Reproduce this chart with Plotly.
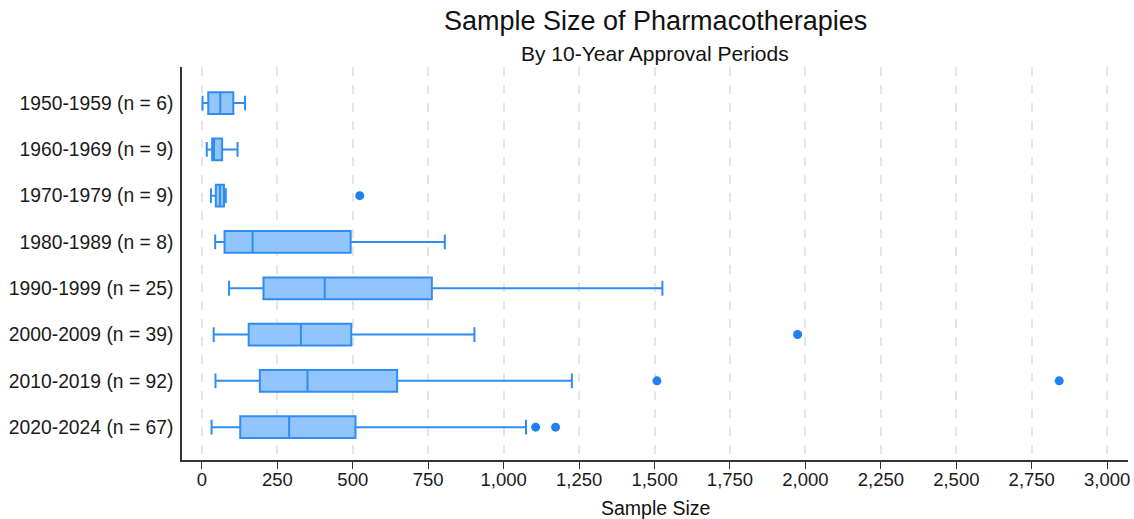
import plotly.graph_objects as go

periods = ["1950-1959 (n = 6)", "1960-1969 (n = 9)", "1970-1979 (n = 9)", "1980-1989 (n = 8)",
           "1990-1999 (n = 25)", "2000-2009 (n = 39)", "2010-2019 (n = 92)", "2020-2024 (n = 67)"]
lower_whisker = [2, 16, 30, 44, 90, 39, 45, 32]
q1 = [21, 34, 46, 75, 204, 155, 192, 127]
median = [61, 40, 60, 168, 407, 328, 350, 289]
q3 = [104, 67, 73, 493, 762, 495, 647, 509]
upper_whisker = [143, 118, 79, 805, 1526, 903, 1226, 1074]

outlier_period = ["1970-1979 (n = 9)", "2000-2009 (n = 39)", "2010-2019 (n = 92)",
                  "2010-2019 (n = 92)", "2020-2024 (n = 67)", "2020-2024 (n = 67)"]
outlier_value = [523, 1974, 1508, 2841, 1106, 1172]

x_ticks = list(range(0, 3001, 250))
x_tick_text = [f"{v:,}" for v in x_ticks]

FONT = "Liberation Sans, Arial, Helvetica, sans-serif"
LINE = "#2f8df2"
FILL = "#93c5fd"

PLOT_TOP, PLOT_BOTTOM = 67, 460
PH = PLOT_BOTTOM - PLOT_TOP


def py(pix):
    return (PLOT_BOTTOM - pix) / PH


fig = go.Figure()
fig.add_trace(go.Box(
    y=periods, q1=q1, median=median, q3=q3,
    lowerfence=lower_whisker, upperfence=upper_whisker,
    orientation="h", boxpoints=False,
    fillcolor=FILL, line=dict(color=LINE, width=2),
    width=0.47, whiskerwidth=0.68, showlegend=False, hoverinfo="skip",
))
fig.add_trace(go.Scatter(
    x=outlier_value, y=outlier_period, mode="markers",
    marker=dict(color="#1f80f2", size=9), showlegend=False,
))

fig.update_layout(
    width=1134, height=519,
    margin=dict(l=182, r=6, t=PLOT_TOP, b=519 - PLOT_BOTTOM),
    paper_bgcolor="white", plot_bgcolor="white",
    font=dict(family=FONT, color="#1a1a1a", size=19),
    showlegend=False,
    annotations=[
        dict(text="Sample Size of Pharmacotherapies", x=0.5, y=py(21),
             xref="paper", yref="paper", xanchor="center", yanchor="middle",
             showarrow=False, font=dict(size=27, family=FONT, color="#111")),
        dict(text="By 10-Year Approval Periods", x=0.5, y=py(54),
             xref="paper", yref="paper", xanchor="center", yanchor="middle",
             showarrow=False, font=dict(size=21, family=FONT, color="#111")),
        dict(text="Sample Size", x=0.5, y=py(508),
             xref="paper", yref="paper", xanchor="center", yanchor="middle",
             showarrow=False, font=dict(size=19.5, family=FONT, color="#111")),
    ],
)
fig.update_xaxes(
    range=[-66, 3069], tickvals=x_ticks, ticktext=x_tick_text,
    showgrid=True, gridcolor="#e6e6e6", griddash="dash", gridwidth=1.5,
    zeroline=False, showline=True, linecolor="#333", linewidth=1.5,
    ticks="outside", ticklen=7, tickcolor="#333", tickwidth=1.2,
    tickfont=dict(size=18.5, family=FONT), automargin=False, ticklabelstandoff=-5,
)
fig.update_yaxes(
    categoryorder="array", categoryarray=periods, range=[7.71, -0.78],
    showgrid=False, zeroline=False, showline=True, linecolor="#333", linewidth=1.5,
    ticks="", ticklabelstandoff=3, tickfont=dict(size=19.3, family=FONT),
    automargin=False,
)

fig.write_html("out.html", config={"displayModeBar": False},
               post_script="document.body.style.margin='0px';document.body.style.overflow='hidden';")
